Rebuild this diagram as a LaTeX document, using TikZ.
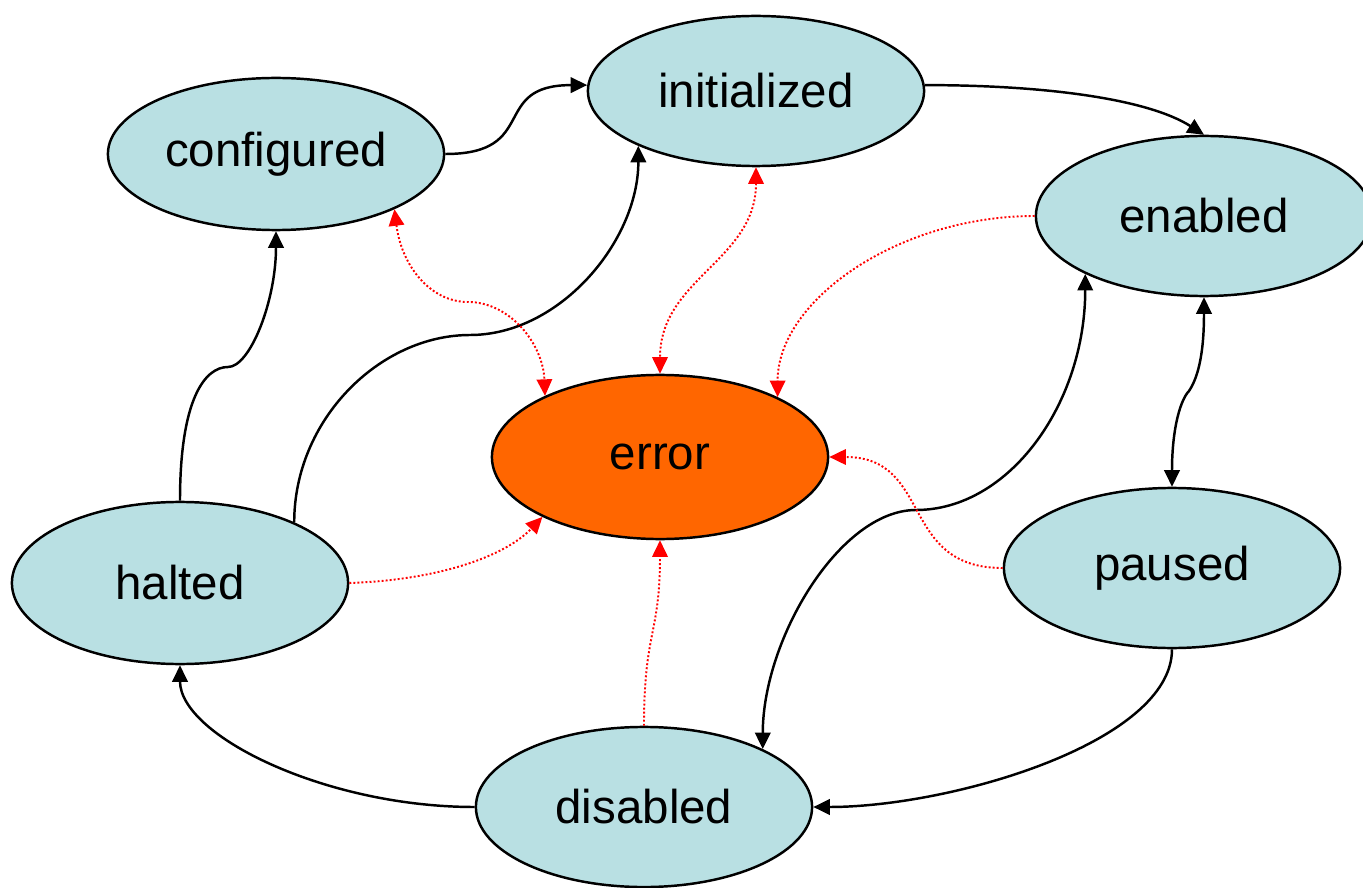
\documentclass[tikz,border=0pt]{standalone}
\usepackage{fontspec}
\setmainfont{Liberation Sans}
\usetikzlibrary{arrows.meta,shapes.geometric}
\definecolor{statefill}{RGB}{185,224,227}
\definecolor{errfill}{RGB}{255,102,0}
\definecolor{errline}{RGB}{255,0,0}
\begin{document}
\begin{tikzpicture}[x=0.01cm,y=-0.01cm,
  >={Triangle[length=4.7pt,width=4.4pt]},
  state/.style={ellipse,draw=black,line width=0.7pt,fill=statefill,
    inner sep=0pt,minimum width=3.36cm,minimum height=1.6cm,
    font=\fontsize{13.5}{16}\selectfont},
  errstate/.style={state,fill=errfill},
  trans/.style={line width=0.7pt,black},
  fault/.style={line width=0.55pt,errline,dash pattern=on 0.55pt off 0.6pt}]

% page frame
\clip (0,0) rectangle (1363,888);
\fill[white] (0,0) rectangle (1363,888);

% states
\node[state,minimum height=1.52cm] (conf) at (276,154) {configured};
\node[state,minimum height=1.5cm] (init) at (756,91) {initialized};
\node[state] (en) at (1204,216) {enabled};
\node[errstate,minimum height=1.64cm] (err) at (660,457) {error};
\node[state,minimum height=1.62cm] (halt) at (180,583) {halted};
\node[state] (pau) at (1172,568) {paused};
\node[state] (dis) at (644,807) {disabled};

% waypoints of the bent connectors
\coordinate (m3) at (228,367);
\coordinate (m4) at (470,335);
\coordinate (m5) at (468,302);
\coordinate (m11) at (916,510);
\coordinate (m12) at (1189,391);

% normal transitions
\draw[trans,->] (conf.east) .. controls +(95,0) and +(-98,0) .. (init.178);
\draw[trans,->] (init.2) .. controls +(125,0) and +(-55,-35) .. (en.north);
\draw[trans,->] (halt.north) .. controls +(0,-102) and +(-23,0) .. (m3)
  .. controls +(22,0) and +(0,70) .. (conf.south);
\draw[trans,->] (halt.28) .. controls +(0,-103) and +(-90,0) .. (m4)
  .. controls +(90,0) and +(0,95) .. (init.-155);
\draw[trans,<->] (en.-154) .. controls +(0,130) and +(93,0) .. (m11)
  .. controls +(-76,0) and +(0,-110) .. (dis.26);
\draw[trans,<->] (en.south) .. controls +(0,60) and +(8,-12) .. (m12)
  .. controls +(-8,8) and +(0,-60) .. (pau.north);
\draw[trans,->] (pau.south) .. controls +(0,93) and +(138,0) .. (dis.east);
\draw[trans,->] (dis.west) .. controls +(-150,0) and +(0,70) .. (halt.south);

% error transitions
\draw[fault,<->] (conf.-25) .. controls +(7,56) and +(-38,0) .. (m5)
  .. controls +(42,0) and +(-2,-52) .. (err.152);
\draw[fault,<->] (init.south) .. controls +(0,93) and +(0,-95) .. (err.north);
\draw[fault,->] (en.west) .. controls +(-136,0) and +(0,-97) .. (err.27);
\draw[fault,->] (halt.east) .. controls +(90,-3) and +(-37,39) .. (err.-153);
\draw[fault,->] (dis.north) .. controls +(0,-95) and +(0,95) .. (err.south);
\draw[fault,->] (pau.west) .. controls +(-104,0) and +(104,0) .. (err.east);
\end{tikzpicture}
\end{document}
